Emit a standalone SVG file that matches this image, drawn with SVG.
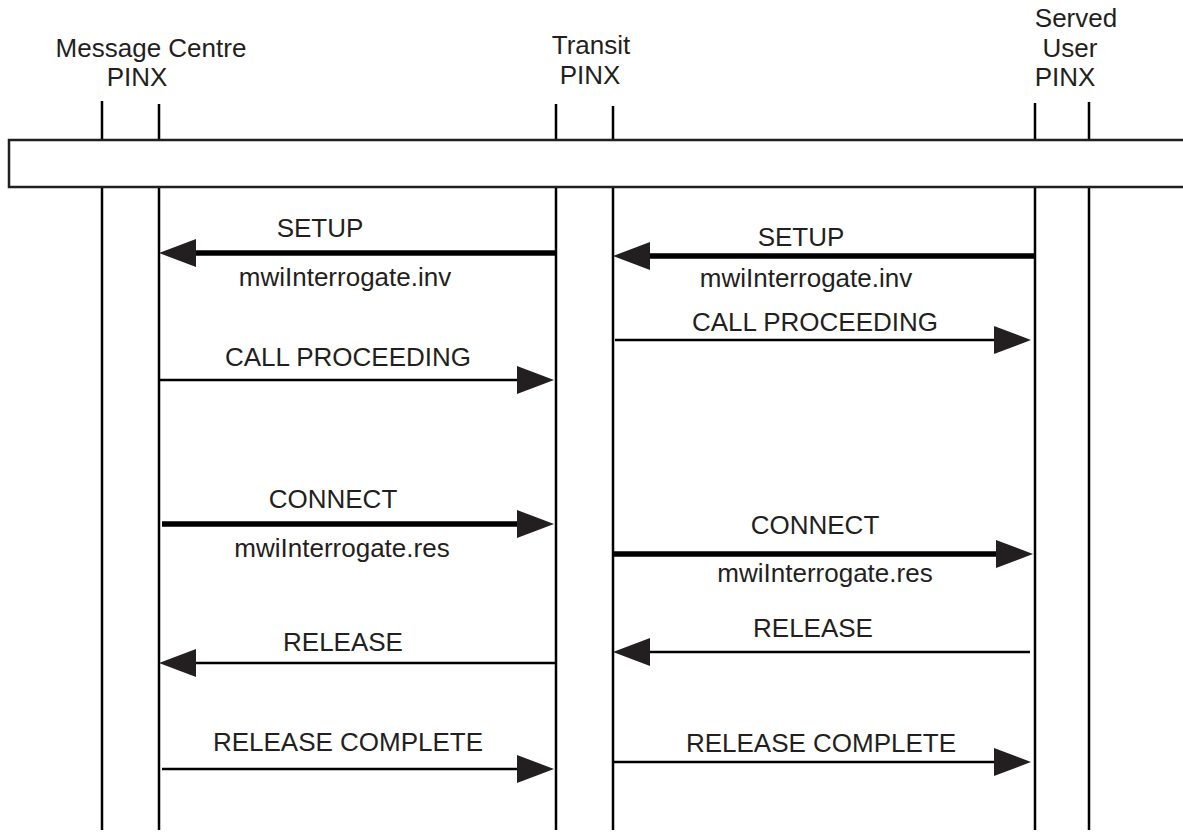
<svg xmlns="http://www.w3.org/2000/svg" width="1183" height="832" viewBox="0 0 1183 832">
<style>
text{font-family:"Liberation Sans",Arial,Helvetica,sans-serif;font-size:26px;fill:#231f20;text-anchor:middle}
.life{stroke:#000;stroke-width:2.5}
.thin{stroke:#000;stroke-width:2.5;fill:none;marker-end:url(#ah)}
.thick{stroke:#000;stroke-width:5.5;fill:none;marker-end:url(#ah)}
</style>
<defs>
<marker id="ah" markerUnits="userSpaceOnUse" markerWidth="38" markerHeight="28" refX="0" refY="14" orient="auto" overflow="visible">
<path d="M0,0 L37,14 L0,28 Z" fill="#231f20"/>
</marker>
</defs>
<rect width="1183" height="832" fill="#fff"/>
<g id="lifelines">
<line class="life" x1="102" y1="101" x2="102" y2="830"/>
<line class="life" x1="159" y1="104" x2="159" y2="830"/>
<line class="life" x1="556" y1="104" x2="556" y2="830"/>
<line class="life" x1="613" y1="106" x2="613" y2="830"/>
<line class="life" x1="1035" y1="103" x2="1035" y2="830"/>
<line class="life" x1="1089" y1="102" x2="1089" y2="830"/>
</g>
<g id="bar">
<rect x="9" y="140" width="1190" height="47" fill="#fff" stroke="#231f20" stroke-width="2.5"/>
</g>
<g id="node-mc">
<text x="151" y="57">Message Centre</text>
<text x="137" y="86">PINX</text>
</g>
<g id="node-transit">
<text x="591" y="54">Transit</text>
<text x="590" y="84">PINX</text>
</g>
<g id="node-served">
<text x="1076" y="27">Served</text>
<text x="1070" y="57">User</text>
<text x="1065" y="86">PINX</text>
</g>
<g id="connectors">
<line class="thick" x1="556" y1="253" x2="196" y2="253"/>
<line class="thick" x1="1035" y1="256" x2="650" y2="256"/>
<line class="thin" x1="615" y1="340" x2="994" y2="340"/>
<line class="thin" x1="159" y1="380" x2="517" y2="380"/>
<line class="thick" x1="162" y1="524" x2="517" y2="524"/>
<line class="thick" x1="613" y1="554" x2="996" y2="554"/>
<line class="thin" x1="556" y1="663" x2="196" y2="663"/>
<line class="thin" x1="1030" y1="652" x2="650" y2="652"/>
<line class="thin" x1="162" y1="769" x2="517" y2="769"/>
<line class="thin" x1="613" y1="762" x2="994" y2="762"/>
</g>
<g id="labels">
<text x="320" y="237">SETUP</text>
<text x="345" y="286">mwiInterrogate.inv</text>
<text x="801" y="246">SETUP</text>
<text x="806" y="287">mwiInterrogate.inv</text>
<text x="815" y="331">CALL PROCEEDING</text>
<text x="348" y="366">CALL PROCEEDING</text>
<text x="333" y="508">CONNECT</text>
<text x="342" y="557">mwiInterrogate.res</text>
<text x="815" y="534">CONNECT</text>
<text x="825" y="582">mwiInterrogate.res</text>
<text x="343" y="651">RELEASE</text>
<text x="813" y="637">RELEASE</text>
<text x="348" y="751">RELEASE COMPLETE</text>
<text x="821" y="752">RELEASE COMPLETE</text>
</g>
</svg>
